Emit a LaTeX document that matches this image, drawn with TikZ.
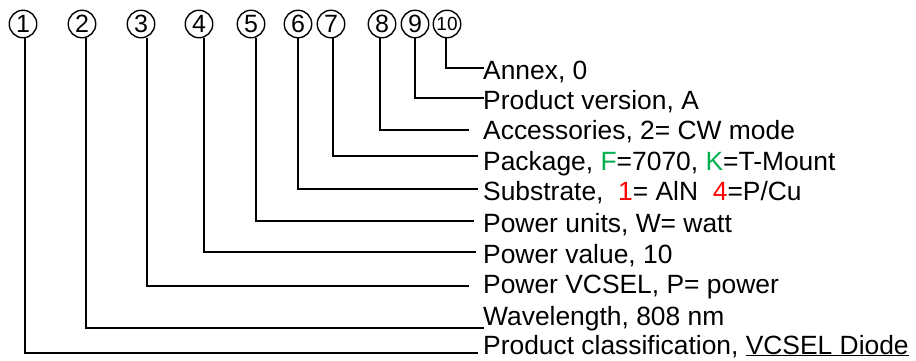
\documentclass[tikz,border=0pt]{standalone}
\usepackage{fontspec}
\setmainfont{Liberation Sans}
\definecolor{grn}{RGB}{0,176,80}
\definecolor{rd}{RGB}{255,0,0}
\begin{document}
\begin{tikzpicture}[x=1pt,y=-1pt,
  num/.style={circle, draw, line width=1.4pt, minimum size=27.5pt, inner sep=0pt, font=\fontsize{25}{25}\selectfont},
  ten/.style={num, font=\fontsize{19}{19}\selectfont},
  lbl/.style={anchor=base west, inner sep=0pt, font=\fontsize{26.4}{30}\selectfont},
  conn/.style={line width=1.6pt, line cap=rect}]
\useasboundingbox (0,0) rectangle (916,360);
% circled numbers
\node[num] (c1) at (23,24) {1};
\node[num] (c2) at (82,24) {2};
\node[num] (c3) at (141,24) {3};
\node[num] (c4) at (199,24) {4};
\node[num] (c5) at (251,24) {5};
\node[num] (c6) at (298,24) {6};
\node[num] (c7) at (331,24) {7};
\node[num] (c8) at (382,24) {8};
\node[num] (c9) at (415,24) {9};
\node[ten] (c10) at (447,24) {10};
% labels
\node[lbl] (t10) at (483,79) {Annex, 0};
\node[lbl] (t9) at (483,109) {Product version, A};
\node[lbl] (t8) at (483,139) {Accessories, 2= CW mode};
\node[lbl] (t7) at (483,170) {Package, \textcolor{grn}{F}=7070, \textcolor{grn}{K}=T-Mount};
\node[lbl] (t6) at (483,200) {Substrate,\ \ \textcolor{rd}{1}= AlN\ \ \textcolor{rd}{4}=P/Cu};
\node[lbl] (t5) at (483,232) {Power units, W= watt};
\node[lbl] (t4) at (483,263) {Power value, 10};
\node[lbl] (t3) at (483,293) {Power VCSEL, P= power};
\node[lbl] (t2) at (483,325) {Wavelength, 808 nm};
\node[lbl] (t1) at (483,354) {Product classification, \underline{VCSEL Diode}};
% corners and ends
\coordinate (k10) at (446,68);  \coordinate (e10) at (483,68);
\coordinate (k9) at (415,98);   \coordinate (e9) at (483,98);
\coordinate (k8) at (380,130);  \coordinate (e8) at (468,130);
\coordinate (k7) at (333,156);  \coordinate (e7) at (477,156);
\coordinate (k6) at (298,189);  \coordinate (e6) at (477,189);
\coordinate (k5) at (256,221);  \coordinate (e5) at (473,221);
\coordinate (k4) at (204,252);  \coordinate (e4) at (475,252);
\coordinate (k3) at (147,286);  \coordinate (e3) at (468,286);
\coordinate (k2) at (86,328);   \coordinate (e2) at (483,328);
\coordinate (k1) at (25,353);   \coordinate (e1) at (477,353);
\foreach \i in {1,...,10}{
  \draw[conn] (c\i.south -| k\i) -- (k\i) -- (e\i);
}
\end{tikzpicture}
\end{document}
